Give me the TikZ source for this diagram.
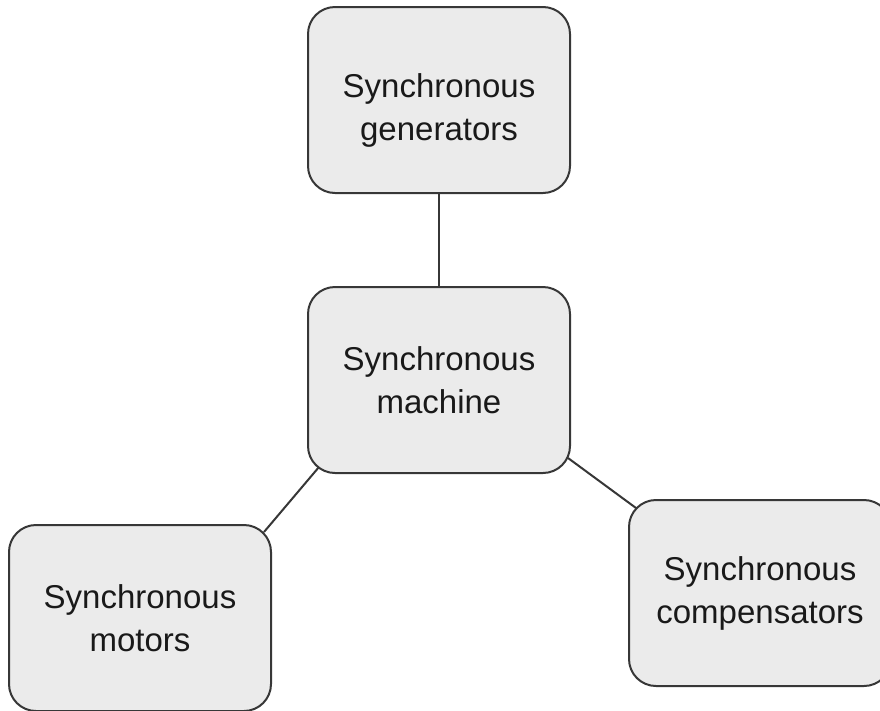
\documentclass[tikz,border=0pt]{standalone}
\usepackage{fontspec}
\setmainfont{Liberation Sans}
\usetikzlibrary{calc}
\definecolor{boxfill}{RGB}{235,235,235}
\definecolor{boxline}{RGB}{55,55,55}
\tikzset{
  mbox/.style={draw=boxline, fill=boxfill, line width=2pt, rounded corners=27pt,
    minimum width=262pt, minimum height=186pt, inner sep=0pt, outer sep=0pt,
    align=center, font=\fontsize{33}{43}\selectfont, text=black!90},
  mtext/.style={align=center, font=\fontsize{33}{43}\selectfont, text=black!90, inner sep=0pt},
  link/.style={draw=boxline, line width=2pt}
}
\begin{document}
\begin{tikzpicture}[x=1pt,y=-1pt]
\useasboundingbox (0,0) rectangle (880,710);
\node[mbox] (top) at (439,100) {};
\node[mtext] (toptext) at (439,110) {Synchronous\\generators};
\node[mbox] (mid) at (439,380) {Synchronous\\machine};
\node[mbox] (bl) at (140,618) {Synchronous\\motors};
\node[mbox] (br) at (760,593) {Synchronous\\compensators};
\draw[link] (top) -- (mid);
\draw[link] ($(mid.south west)+(11pt,6pt)$) -- ($(bl.north east)+(-7pt,-7pt)$);
\draw[link] ($(mid.south east)+(-2pt,15pt)$) -- ($(br.north west)+(7pt,-8pt)$);
\end{tikzpicture}
\end{document}
